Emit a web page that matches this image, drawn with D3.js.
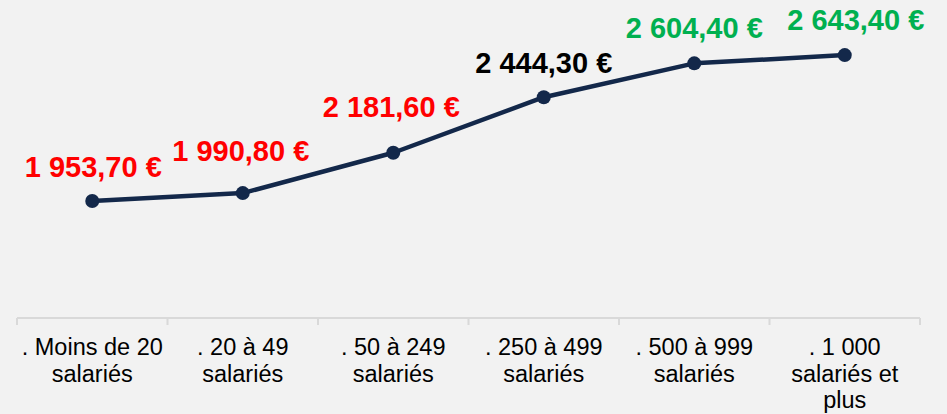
<!DOCTYPE html>
<html><head><meta charset="utf-8">
<script src="https://cdn.jsdelivr.net/npm/d3@7"></script>
<style>
html,body{margin:0;padding:0;background:#F2F2F2;}
svg{display:block;}
</style></head>
<body>
<script>
const categories = [". Moins de 20 salariés", ". 20 à 49 salariés", ". 50 à 249 salariés", ". 250 à 499 salariés", ". 500 à 999 salariés", ". 1 000 salariés et plus"];
const values = [1953.7, 1990.8, 2181.6, 2444.3, 2604.4, 2643.4];
const labelTexts = ["1 953,70 €", "1 990,80 €", "2 181,60 €", "2 444,30 €", "2 604,40 €", "2 643,40 €"];
const labelColors = ["#FF0000", "#FF0000", "#FF0000", "#000000", "#00B050", "#00B050"];
// label layout nudges (pixels)
const labelDx = [1, -2, -2, 0, 0, 11];
const labelDy = [24, 32, 36, 24, 25, 25];

const W = 947, H = 414;
const margin = {left: 17, right: 27, top: 22, bottom: 96};
const svg = d3.select("body").append("svg").attr("width", W).attr("height", H);
svg.append("rect").attr("width", W).attr("height", H).attr("fill", "#F2F2F2");

const x = d3.scaleBand().domain(categories).range([margin.left, W - margin.right]).padding(0);
const y = d3.scaleLinear().domain([1400, 2800]).range([H - margin.bottom, margin.top]);

// axis
const axisG = svg.append("g").attr("transform", `translate(0,${H - margin.bottom})`);
axisG.append("line").attr("x1", margin.left).attr("x2", W - margin.right)
  .attr("y1", 0).attr("y2", 0).attr("stroke", "#D9D9D9").attr("stroke-width", 2);
const tickXs = categories.map(c => x(c)).concat([x(categories[categories.length - 1]) + x.bandwidth()]);
axisG.selectAll("line.tick").data(tickXs).enter().append("line").attr("class", "tick")
  .attr("x1", d => d).attr("x2", d => d).attr("y1", 0).attr("y2", 7)
  .attr("stroke", "#D9D9D9").attr("stroke-width", 2);

// category labels with wrapping
const fontFam = "'Liberation Sans', Arial, sans-serif";
const catG = svg.append("g");
categories.forEach(c => {
  const t = catG.append("text").attr("x", x(c) + x.bandwidth() / 2).attr("y", 355)
    .attr("text-anchor", "middle").attr("font-family", fontFam).attr("font-size", "23.5px").attr("fill", "#000");
  const words = c.split(" ");
  let lines = [], cur = "";
  const meas = svg.append("text").attr("font-family", fontFam).attr("font-size", "23.5px");
  words.forEach(w => {
    const trial = cur ? cur + " " + w : w;
    meas.text(trial);
    if (meas.node().getComputedTextLength() > 146 && cur) { lines.push(cur); cur = w; }
    else cur = trial;
  });
  if (cur) lines.push(cur);
  meas.remove();
  lines.forEach((l, i) => {
    t.append("tspan").attr("x", x(c) + x.bandwidth() / 2).attr("dy", i === 0 ? 0 : 26.5).text(l);
  });
});

// line
const cx = i => x(categories[i]) + x.bandwidth() / 2;
const line = d3.line().x((d, i) => cx(i)).y(d => y(d));
svg.append("path").datum(values).attr("d", line).attr("fill", "none")
  .attr("stroke", "#13284A").attr("stroke-width", 4.5).attr("stroke-linejoin", "round");
svg.selectAll("circle.pt").data(values).enter().append("circle").attr("class", "pt")
  .attr("cx", (d, i) => cx(i)).attr("cy", d => y(d)).attr("r", 7).attr("fill", "#13284A");

// data labels
svg.selectAll("text.lbl").data(values).enter().append("text").attr("class", "lbl")
  .attr("x", (d, i) => cx(i) + labelDx[i]).attr("y", (d, i) => y(d) - labelDy[i])
  .attr("text-anchor", "middle").attr("font-family", fontFam).attr("font-weight", "bold")
  .attr("font-size", "29px").attr("fill", (d, i) => labelColors[i]).text((d, i) => labelTexts[i]);
</script>
</body></html>
